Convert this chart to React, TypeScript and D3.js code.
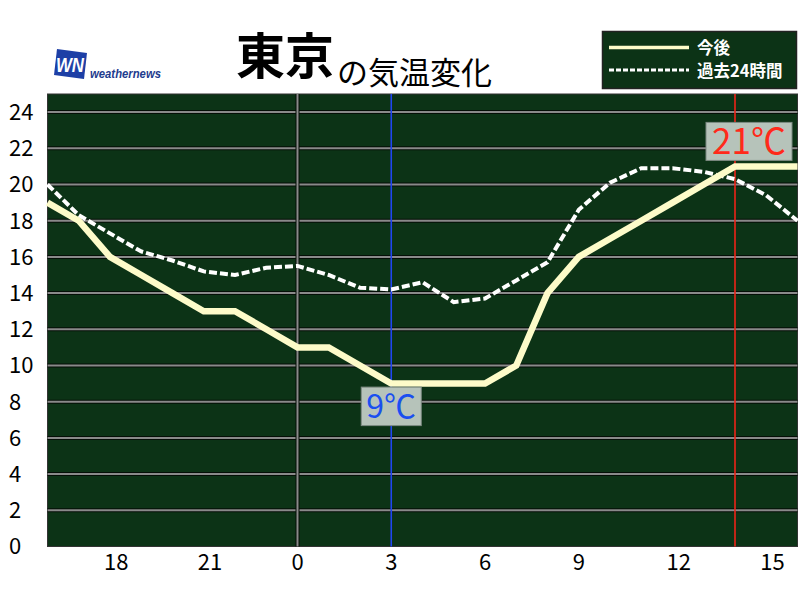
import React from "react";
import * as d3 from "d3";

// ---- data ----
const hours = [16, 17, 18, 19, 20, 21, 22, 23, 24, 25, 26, 27, 28, 29, 30, 31, 32, 33, 34, 35, 36, 37, 38, 39, 40];
const forecast = [19, 18, 16, 15, 14, 13, 13, 12, 11, 11, 10, 9, 9, 9, 9, 10, 14, 16, 17, 18, 19, 20, 21, 21, 21];
const past24 = [20, 18.3, 17.3, 16.3, 15.8, 15.2, 15.0, 15.4, 15.5, 15.0, 14.3, 14.2, 14.6, 13.5, 13.7, 14.7, 15.7, 18.6, 20.1, 20.9, 20.9, 20.7, 20.3, 19.4, 18.0];
const xTickHours = [18, 21, 24, 27, 30, 33, 36, 39];
const xTickLabels = ["18", "21", "0", "3", "6", "9", "12", "15"];
const yTicks = [0, 2, 4, 6, 8, 10, 12, 14, 16, 18, 20, 22, 24];
const minMark = { hour: 27, value: 9, label: "9℃" };
const maxMark = { hour: 38, value: 21, label: "21℃" };
const legendLabels = ["今後", "過去24時間"];
const titleMain = "東京";
const titleSub = "の気温変化";

const FONT = "'Noto Sans CJK JP', 'Noto Sans', sans-serif";

export default function App() {
  const left = 47.5, right = 797.5, top = 94, bottom = 546.5;
  const x = d3.scaleLinear().domain([16, 40]).range([left, right]);
  const y = d3.scaleLinear().domain([0, 25]).range([bottom, top]);

  const line = d3
    .line<number>()
    .x((_, i) => x(hours[i]))
    .y((d) => y(d));

  const minX = x(minMark.hour), minY = y(minMark.value);
  const maxX = x(maxMark.hour), maxY = y(maxMark.value);

  return (
    <svg
      width={800}
      height={600}
      style={{ position: "absolute", left: 0, top: 0, background: "#fff" }}
      fontFamily={FONT}
    >
      {/* logo */}
      <g>
        <polygon points="57,49 87,53 84,79 54,75" fill="#1d3fa6" />
        <text x={56} y={72} fill="#fff" fontSize={20} fontWeight="bold" fontStyle="italic" fontFamily="'Liberation Sans', sans-serif" textLength={28} lengthAdjust="spacingAndGlyphs">
          WN
        </text>
        <text x={90} y={78} fill="#1e3c8e" fontSize={13} fontStyle="italic" fontWeight="bold" fontFamily="'Liberation Sans', sans-serif" textLength={71} lengthAdjust="spacingAndGlyphs">
          weathernews
        </text>
      </g>

      {/* title */}
      <text x={236} y={74} fontSize={49} fontWeight="bold" fill="#000">
        {titleMain}
      </text>
      <text x={337} y={84} fontSize={31} fill="#000">
        {titleSub}
      </text>

      {/* legend */}
      <rect x={602.5} y={31.5} width={194} height={57} fill="#0c3316" stroke="#222" strokeWidth={1.5} />
      <line x1={609} x2={689} y1={47.5} y2={47.5} stroke="#fdfbc9" strokeWidth={3.5} />
      <line x1={609} x2={689} y1={70} y2={70} stroke="#fff" strokeWidth={3} strokeDasharray="5,2" />
      <text x={697} y={54} fill="#fff" fontSize={16.5} fontWeight="bold">
        {legendLabels[0]}
      </text>
      <text x={697} y={77} fill="#fff" fontSize={16.5} fontWeight="bold">
        {legendLabels[1]}
      </text>

      {/* plot background */}
      <rect x={left} y={top} width={right - left} height={bottom - top} fill="#0c3316" stroke="#333" strokeWidth={1} />

      {/* horizontal grid */}
      {yTicks.filter((t) => t > 0).map((t) => (
        <g key={t}>
          <line x1={left} x2={right} y1={y(t)} y2={y(t)} stroke="#050f07" strokeWidth={4} />
          <line x1={left} x2={right} y1={y(t)} y2={y(t)} stroke="#8a8a8a" strokeWidth={2} />
        </g>
      ))}

      {/* midnight vertical line */}
      <line x1={x(24)} x2={x(24)} y1={top} y2={bottom} stroke="#050f07" strokeWidth={4} />
      <line x1={x(24)} x2={x(24)} y1={top} y2={bottom} stroke="#8a8a8a" strokeWidth={2} />

      {/* min / max vertical markers */}
      <line x1={minX} x2={minX} y1={top} y2={bottom} stroke="#2046f0" strokeWidth={1.6} />
      <line x1={maxX} x2={maxX} y1={top} y2={bottom} stroke="#ee2418" strokeWidth={1.6} />

      {/* past 24h dashed */}
      <path d={line(past24) || ""} fill="none" stroke="#fff" strokeWidth={4} strokeDasharray="8,3" />

      {/* forecast */}
      <path d={line(forecast) || ""} fill="none" stroke="#fdfbc9" strokeWidth={6.5} strokeLinejoin="miter" />

      {/* min label */}
      <rect x={minX - 30} y={minY + 3.5} width={60} height={38.5} fill="#b6c3ba" stroke="#7d8a82" strokeWidth={1} />
      <text x={minX} y={minY + 34} textAnchor="middle" fill="#1a4ff0" fontSize={32}>
        {minMark.label}
      </text>

      {/* max label */}
      <rect x={maxX - 29} y={maxY - 44} width={86} height={38} fill="#b6c3ba" stroke="#7d8a82" strokeWidth={1} />
      <text x={maxX + 14} y={maxY - 12} textAnchor="middle" fill="#ff2a1a" fontSize={35}>
        {maxMark.label}
      </text>

      {/* y axis labels */}
      {yTicks.map((t) => (
        <text key={t} x={9} y={y(t)} dy="0.36em" fontSize={22} fill="#000">
          {t}
        </text>
      ))}

      {/* x axis labels */}
      {xTickHours.map((h, i) => (
        <text key={h} x={x(h) - 6} y={570} fontSize={22} fill="#000">
          {xTickLabels[i]}
        </text>
      ))}
    </svg>
  );
}
